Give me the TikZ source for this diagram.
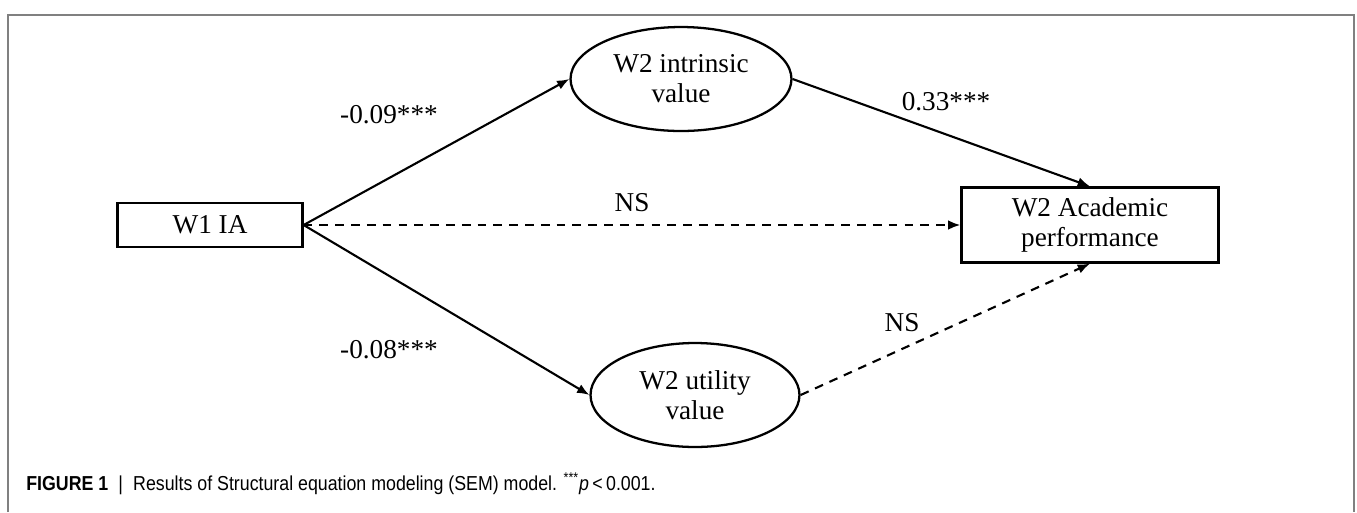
\documentclass[tikz,border=0pt]{standalone}
\usepackage{fontspec}
\setmainfont{Liberation Serif}
\newfontfamily\capfont[FakeStretch=0.88]{Liberation Sans}
\usetikzlibrary{arrows.meta,shapes.geometric}

\begin{document}
\begin{tikzpicture}[x=0.02cm,y=-0.02cm,
    every node/.style={font=\fontsize{15.5}{17}\selectfont},
    var/.style={draw,line width=1.3pt,rectangle,align=center,inner sep=0pt},
    latent/.style={draw,line width=1.3pt,ellipse,align=center,inner sep=0pt},
    path/.style={line width=1.2pt,-{Latex[length=7pt,width=5.5pt]}},
    ns/.style={path,dash pattern=on 5pt off 4pt}]
  \useasboundingbox (0,0) rectangle (1357,512);
  \draw[gray,line width=0.9pt] (8,512) -- (8,15) -- (1354,15) -- (1354,512);

  \node[var,minimum width=3.7cm,minimum height=0.88cm] (ia) at (210,225) {W1 IA};
  \node[var,minimum width=5.14cm,minimum height=1.5cm] (acad) at (1090,225) {W2 Academic\\performance};
  \node[latent,minimum width=4.42cm,minimum height=2.08cm] (intr) at (681,79) {W2 intrinsic\\value};
  \node[latent,minimum width=4.18cm,minimum height=2.08cm] (util) at (695,395) {W2 utility\\value};

  \draw[path] (ia.east) -- (intr.west);
  \draw[path] (ia.east) -- (util.west);
  \draw[ns] (ia.east) -- (acad.west);
  \draw[path] (intr.east) -- (acad.north);
  \draw[ns] (util.east) -- (acad.south);

  \node (b1) at (389,115) {-0.09***};
  \node (b2) at (389,350) {-0.08***};
  \node (b3) at (946,102) {0.33***};
  \node (b4) at (632,203) {NS};
  \node (b5) at (902,323) {NS};

  \node[anchor=west,inner sep=0pt,font=\capfont\fontsize{11.5}{13}\selectfont] (cap) at (26,484)
    {\textbf{FIGURE 1}\enspace|\enspace Results of Structural equation modeling (SEM) model. \textsuperscript{***}\textit{p}\,<\,0.001.};
\end{tikzpicture}
\end{document}
